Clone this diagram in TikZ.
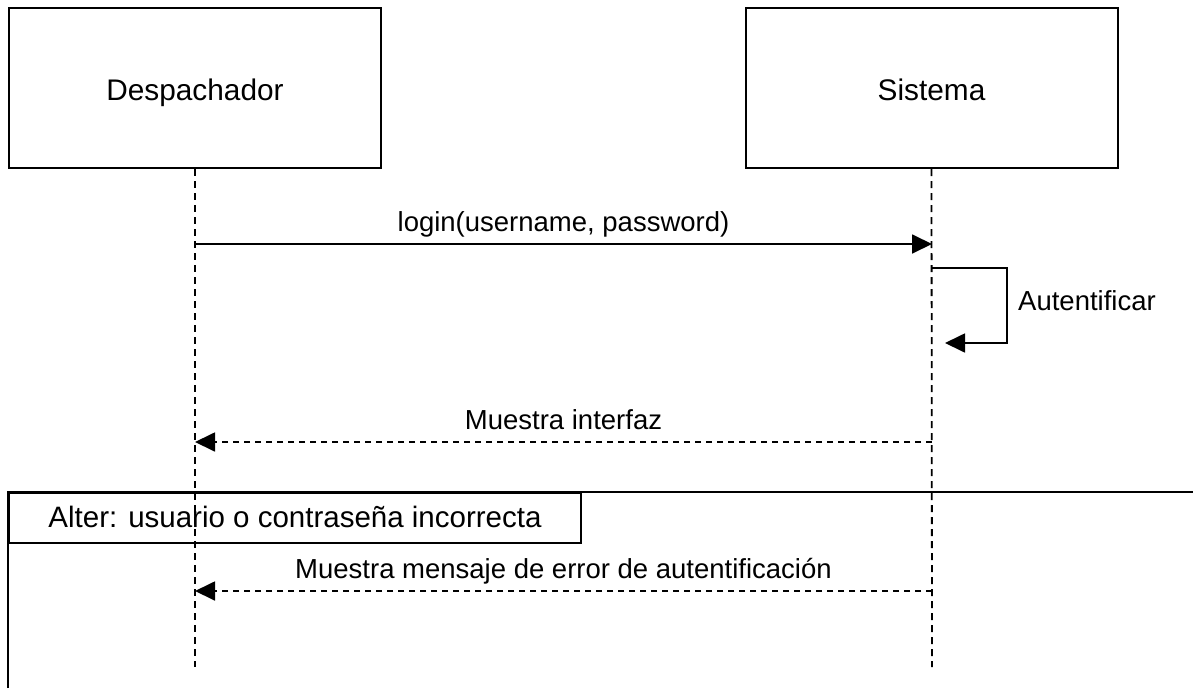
\documentclass[tikz,border=0pt]{standalone}
\usepackage{fontspec}
\setmainfont{Liberation Sans}
\usetikzlibrary{arrows.meta}
\begin{document}
\begin{tikzpicture}[x=1pt,y=-1pt,
  actor/.style={draw,line width=2pt,minimum width=372pt,minimum height=160pt,inner sep=0pt,text height=24pt,text depth=0pt,font=\fontsize{29.8}{32}\selectfont},
  lifeline/.style={line width=1.8pt,dash pattern=on 7pt off 5pt},
  msg/.style={line width=1.8pt,-{Triangle[length=20pt,width=19pt]}},
  reply/.style={msg,dash pattern=on 6pt off 5pt},
  lbl/.style={font=\fontsize{27.5}{30}\selectfont,inner sep=0pt},
  mlbl/.style={lbl,midway,anchor=base,yshift=13pt},
  framebox/.style={draw,line width=2pt,minimum width=572pt,minimum height=50pt,inner sep=0pt,text height=18pt,text depth=0pt,font=\fontsize{29.5}{32}\selectfont}]
\useasboundingbox (0,0) rectangle (1193,688);
% actors
\node[actor] (desp) at (195,88) {Despachador};
\node[actor] (sis) at (931.5,88) {Sistema};
% lifeline ends
\coordinate (dend) at (195,667);
\coordinate (send) at (932,667);
\draw[lifeline] (desp.south) -- (dend);
\draw[lifeline] (sis.south) -- (send);
% login
\coordinate (d1) at (195,244);
\coordinate (s1) at (932,244);
\draw[msg] (d1) -- node[mlbl] (l1) {login(username, password)} (s1);
% self message
\coordinate (s2) at (932,268);
\coordinate (s2b) at (945,343);
\draw[msg] (s2) -- (1007,268) -- (1007,343) -- (s2b);
\node[lbl,anchor=base west] (auth) at (1018,310) {Autentificar};
% muestra interfaz
\coordinate (s3) at (932,442);
\coordinate (d3) at (195,442);
\draw[reply] (s3) -- node[mlbl] (l3) {Muestra interfaz} (d3);
% alter frame
\draw[line width=2pt] (8,688) -- (8,492) -- (1193,492);
\node[framebox,anchor=north west] (alt) at (8,492) {Alter: usuario o contraseña incorrecta};
% error message
\coordinate (s4) at (932,591);
\coordinate (d4) at (195,591);
\draw[reply] (s4) -- node[mlbl] (l4) {Muestra mensaje de error de autentificación} (d4);
\end{tikzpicture}
\end{document}
